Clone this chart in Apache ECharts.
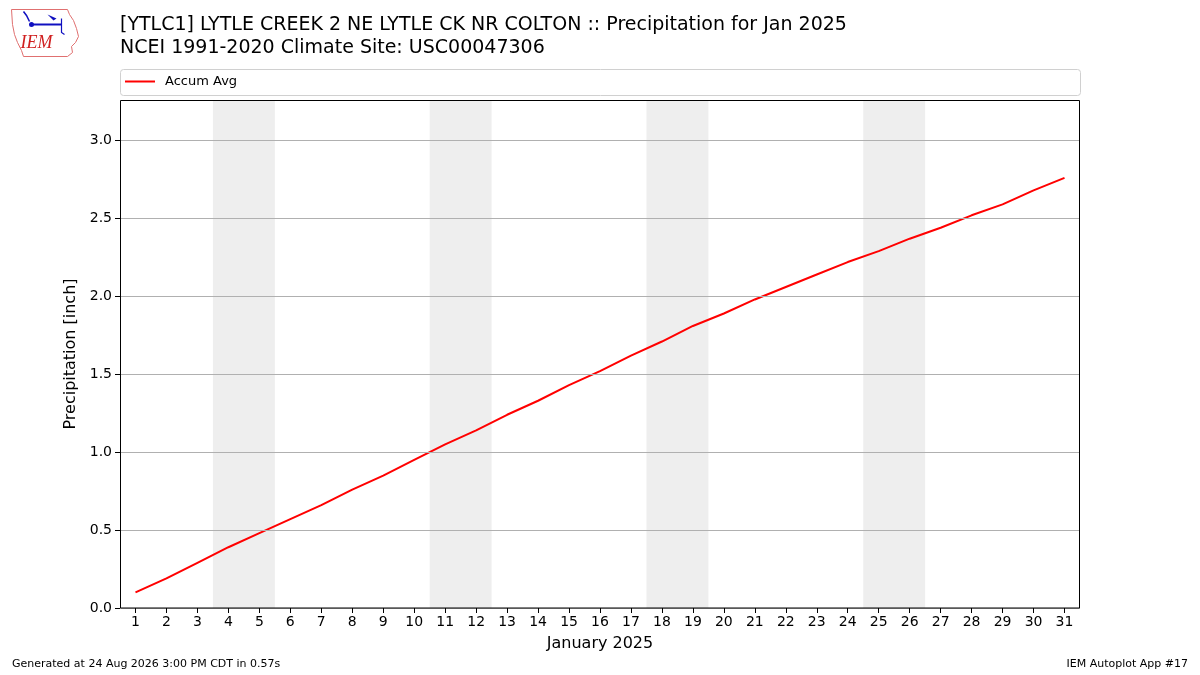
<!DOCTYPE html>
<html>
<head>
<meta charset="utf-8">
<title>Precipitation for Jan 2025</title>
<script src="https://cdn.jsdelivr.net/npm/echarts@6/dist/echarts.min.js"></script>
<style>
    html, body { margin: 0; padding: 0; background: #fff; }
    #chart { width: 1200px; height: 675px; }
</style>
</head>
<body>
<div id="chart"></div>
<script>
// days of January 2025
var days = [1, 2, 3, 4, 5, 6, 7, 8, 9, 10, 11, 12, 13, 14, 15, 16,
    17, 18, 19, 20, 21, 22, 23, 24, 25, 26, 27, 28, 29, 30, 31];
// accumulated average precipitation [inch]
var accumAvg = [0.10, 0.19, 0.29, 0.39, 0.48, 0.57, 0.66, 0.76, 0.85, 0.95,
    1.05, 1.14, 1.24, 1.33, 1.43, 1.52, 1.62, 1.71, 1.81, 1.89,
    1.98, 2.06, 2.14, 2.22, 2.29, 2.37, 2.44, 2.52, 2.59, 2.68, 2.76];
// weekend bands [start, end]
var weekends = [[3.5, 5.5], [10.5, 12.5], [17.5, 19.5], [24.5, 26.5]];
var yTicks = [0, 0.5, 1.0, 1.5, 2.0, 2.5, 3.0];

var font = 'DejaVu Sans';
var chart = echarts.init(document.getElementById('chart'));

var option = {
    backgroundColor: '#fff',
    animation: false,
    textStyle: { fontFamily: font, color: '#000' },
    title: [
        {
            text: '[YTLC1] LYTLE CREEK 2 NE LYTLE CK NR COLTON :: Precipitation for Jan 2025\nNCEI 1991-2020 Climate Site: USC00047306',
            left: 115,
            top: 9,
            textStyle: { fontFamily: font, fontSize: 19, fontWeight: 'normal', color: '#000', lineHeight: 23 }
        },
        {
            text: 'Generated at 24 Aug 2026 3:00 PM CDT in 0.57s',
            left: 12,
            top: 659,
            padding: 0,
            textStyle: { fontFamily: font, fontSize: 11, fontWeight: 'normal', color: '#000' }
        },
        {
            text: 'IEM Autoplot App #17',
            right: 12,
            top: 659,
            padding: 0,
            textStyle: { fontFamily: font, fontSize: 11, fontWeight: 'normal', color: '#000' }
        }
    ],
    legend: {
        left: 125,
        top: 75,
        padding: 0,
        icon: 'rect',
        itemWidth: 30,
        itemHeight: 2,
        itemGap: 10,
        textStyle: { fontFamily: font, fontSize: 13, color: '#000', padding: [0, 0, 0, 5] },
        data: ['Accum Avg']
    },
    graphic: [
        {
            type: 'rect',
            shape: { x: 120.5, y: 69.5, width: 960, height: 26, r: 3 },
            style: { fill: 'rgba(255,255,255,0.8)', stroke: '#d0d0d0', lineWidth: 1 },
            z: -1
        },
        // axes frame drawn above the weekend bands
        {
            type: 'rect',
            shape: { x: 120.5, y: 100.5, width: 959, height: 507.5 },
            style: { fill: 'none', stroke: '#000', lineWidth: 1 },
            z: 100
        },
        // IEM logo
        {
            type: 'group',
            left: 9,
            top: 7,
            children: [
                {
                    type: 'polyline',
                    shape: { points: [[2, 3], [58, 3], [60, 8], [64, 14], [67, 22], [69, 30], [66, 36], [62, 40], [63, 46], [58, 50], [14, 50], [12, 44], [8, 36], [5, 28], [3, 18], [2, 3]] },
                    style: { stroke: '#e07070', fill: 'none', lineWidth: 1 }
                },
                {
                    type: 'polyline',
                    shape: { points: [[22, 18], [52, 18]] },
                    style: { stroke: '#1010c0', lineWidth: 2 }
                },
                {
                    type: 'polyline',
                    shape: { points: [[14, 5], [17, 9], [20, 15]] },
                    style: { stroke: '#1010c0', lineWidth: 1.5 }
                },
                {
                    type: 'circle',
                    shape: { cx: 22, cy: 18, r: 2.5 },
                    style: { fill: '#1010c0' }
                },
                {
                    type: 'polygon',
                    shape: { points: [[38, 8], [47, 12], [44, 14]] },
                    style: { fill: '#1010c0' }
                },
                {
                    type: 'polyline',
                    shape: { points: [[52, 12], [52, 26], [55, 28]] },
                    style: { stroke: '#1010c0', lineWidth: 1.2 }
                },
                {
                    type: 'text',
                    style: { text: 'IEM', x: 11, y: 28, fill: '#d02020', font: 'italic 18px "Liberation Serif"' }
                }
            ]
        }
    ],
    grid: {
        left: 120,
        right: 120,
        top: 100,
        bottom: 67,
        show: false
    },
    xAxis: {
        type: 'value',
        min: 0.5,
        max: 31.5,
        z: 10,
        name: 'January 2025',
        nameLocation: 'middle',
        nameGap: 28,
        nameTextStyle: { fontFamily: font, fontSize: 16, color: '#000' },
        axisLine: { show: false, onZero: false },
        axisTick: { show: true, length: 5, customValues: days, lineStyle: { color: '#000' } },
        axisLabel: { customValues: days, fontFamily: font, fontSize: 14, color: '#000', margin: 7 },
        splitLine: { show: false }
    },
    yAxis: {
        type: 'value',
        min: 0,
        max: 3.26,
        z: 10,
        name: 'Precipitation [inch]',
        nameLocation: 'middle',
        nameGap: 34,
        nameTextStyle: { fontFamily: font, fontSize: 16, color: '#000' },
        axisLine: { show: false },
        axisTick: { show: true, length: 5, customValues: yTicks, lineStyle: { color: '#000' } },
        axisLabel: {
            customValues: yTicks,
            fontFamily: font, fontSize: 14, color: '#000', margin: 8,
            formatter: function (v) { return v.toFixed(1); }
        },
        splitLine: { show: true, lineStyle: { color: '#b0b0b0', width: 1 } }
    },
    series: [
        {
            name: 'Accum Avg',
            type: 'line',
            symbol: 'none',
            color: '#ff0000',
            lineStyle: { color: '#ff0000', width: 2 },
            data: days.map(function (d, i) { return [d, accumAvg[i]]; }),
            markArea: {
                silent: true,
                itemStyle: { color: '#eeeeee' },
                data: weekends.map(function (w) {
                    return [{ xAxis: w[0] }, { xAxis: w[1] }];
                })
            },
            z: 3
        }
    ]
};

chart.setOption(option);
</script>
</body>
</html>
